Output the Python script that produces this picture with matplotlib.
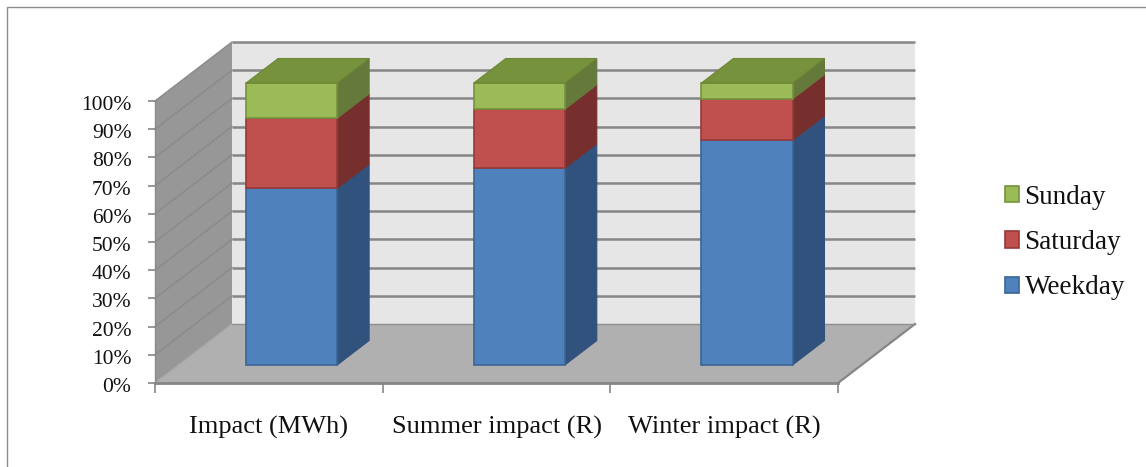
import matplotlib
matplotlib.use("Agg")
import matplotlib.pyplot as plt
from matplotlib.patches import Polygon, Patch, Rectangle
from matplotlib.transforms import ScaledTranslation

plt.rcParams['font.family'] = ['Liberation Serif', 'DejaVu Serif']

# values (percent of the stack)
categories = ["Impact (MWh)", "Summer impact (R)", "Winter impact (R)"]
weekday = [62.6, 69.8, 79.7]
saturday = [24.9, 20.9, 14.6]
sunday = [12.5, 9.3, 5.7]
series_names = ["Weekday", "Saturday", "Sunday"]
y_ticks = [0, 10, 20, 30, 40, 50, 60, 70, 80, 90, 100]

# fake 3d: how far the back of the box moves, in axis units
DEPTH_X = 77 / (683 / 3)
DEPTH_Y = 59 / 2.82
BAR_WIDTH = 0.4
BAR_FRONT = 0.305
BAR_BACK = 0.72
BAR_SHIFT = -0.003

front_cols = ['#4f81bd', '#c0504d', '#9bbb59']
side_cols = ['#31527c', '#772f2e', '#64793a']
edge_cols = ['#3a6596', '#963a38', '#76923c']
top_col = '#76923c'
grid_col = '#868686'


def pt(x, y, d):
    return (x + d * DEPTH_X, y + d * DEPTH_Y)


def face(ax, pts, fc, ec='none', lw=0.0, z=1):
    ax.add_patch(Polygon(pts, closed=True, facecolor=fc, edgecolor=ec, linewidth=lw,
                         zorder=z, clip_on=False, joinstyle='miter'))


W, H = 1146, 467
fig = plt.figure(figsize=(W / 100, H / 100), dpi=100)
fig.add_artist(Rectangle((7 / W, -0.1), 1.2, 1.1 - 7 / H, transform=fig.transFigure,
                         facecolor='white', edgecolor='#8c8c8c', linewidth=1.0, zorder=-1))

ax = fig.add_axes([155 / W, (H - 383) / H, 683 / W, 282 / H])
ax.set_xlim(0, 3)
ax.set_ylim(0, 100)
ax.patch.set_visible(False)

# walls and floor
face(ax, [pt(0, 0, 1), pt(3, 0, 1), pt(3, 100, 1), pt(0, 100, 1)], '#e6e6e6')
face(ax, [pt(0, 0, 0), pt(0, 0, 1), pt(0, 100, 1), pt(0, 100, 0)], '#979797')
face(ax, [pt(0, 0, 0), pt(3, 0, 0), pt(3, 0, 1), pt(0, 0, 1)], '#b0b0b0')

for v in y_ticks[1:]:
    xs, ys = zip(pt(0, v, 1), pt(3, v, 1))
    ax.plot(xs, ys, color=grid_col, lw=1.8, zorder=2, clip_on=False, solid_capstyle='butt')
    xs, ys = zip(pt(0, v, 0), pt(0, v, 1))
    ax.plot(xs, ys, color='#8a8a8a', lw=1.0, zorder=2, clip_on=False)
xs, ys = zip(pt(3, 0, 0), pt(3, 0, 1))
ax.plot(xs, ys, color=grid_col, lw=1.6, zorder=2, clip_on=False)
xs, ys = zip(pt(0, 0, 1), pt(3, 0, 1))
ax.plot(xs, ys, color='#8f8f8f', lw=1.0, zorder=2, clip_on=False)
xs, ys = zip(pt(0, 0, 0), pt(0, 0, 1))
ax.plot(xs, ys, color='#a8a8a8', lw=1.0, zorder=2, clip_on=False)

# stacked boxes
for i in range(len(categories)):
    x0 = i + 0.5 - BAR_WIDTH / 2 + BAR_SHIFT
    x1 = i + 0.5 + BAR_WIDTH / 2 + BAR_SHIFT
    base = 0
    z = 3 + i
    for vals, fc, sc, ec in zip([weekday, saturday, sunday], front_cols, side_cols, edge_cols):
        top = base + vals[i]
        face(ax, [pt(x1, base, BAR_FRONT), pt(x1, base, BAR_BACK), pt(x1, top, BAR_BACK),
                  pt(x1, top, BAR_FRONT)], sc, ec=sc, lw=0.8, z=z)
        face(ax, [pt(x0, base, BAR_FRONT), pt(x1, base, BAR_FRONT), pt(x1, top, BAR_FRONT),
                  pt(x0, top, BAR_FRONT)], fc, ec=ec, lw=1.2, z=z + 0.1)
        base = top
    face(ax, [pt(x0, base, BAR_FRONT), pt(x1, base, BAR_FRONT), pt(x1, base, BAR_BACK),
              pt(x0, base, BAR_BACK)], top_col, ec='#6c8736', lw=0.8, z=z + 0.2)

# axes
for s in ['top', 'right']:
    ax.spines[s].set_visible(False)
ax.spines['bottom'].set_color(grid_col)
ax.spines['bottom'].set_linewidth(2.0)
ax.spines['left'].set_color('#8a8a8a')
ax.spines['left'].set_linewidth(1.0)
ax.spines['left'].set_zorder(2.5)
ax.spines['bottom'].set_zorder(2.5)

ax.set_yticks(y_ticks)
ax.set_yticklabels([f"{v}%" for v in y_ticks], fontsize=15.5, color='#111111')
ax.tick_params(axis='y', length=5, width=1.2, color=grid_col, pad=12)
# labels sit a little under their ticks in the original
nudge = ScaledTranslation(0, -2 / 100, fig.dpi_scale_trans)
for lab in ax.get_yticklabels():
    lab.set_transform(lab.get_transform() + nudge)
ax.set_xticks([0, 1, 2, 3])
ax.set_xticklabels([])
ax.tick_params(axis='x', length=7, width=1.2, color=grid_col)
ax.set_xticks([0.5, 1.5, 2.5], minor=True)
ax.set_xticklabels(categories, minor=True, fontsize=19, color='#111111')
ax.tick_params(axis='x', which='minor', length=0, pad=24)

handles = [Patch(facecolor=front_cols[k], edgecolor=edge_cols[k], linewidth=1.2) for k in [2, 1, 0]]
fig.legend(handles, [series_names[k] for k in [2, 1, 0]], loc='center left',
           bbox_to_anchor=(1005 / W, (H - 242.5) / H), frameon=False, fontsize=19.5,
           borderpad=0, borderaxespad=0, handlelength=0.52, handleheight=0.55,
           handletextpad=0.2, labelspacing=0.75, labelcolor='#111111')

fig.savefig("out.png", dpi=100)
